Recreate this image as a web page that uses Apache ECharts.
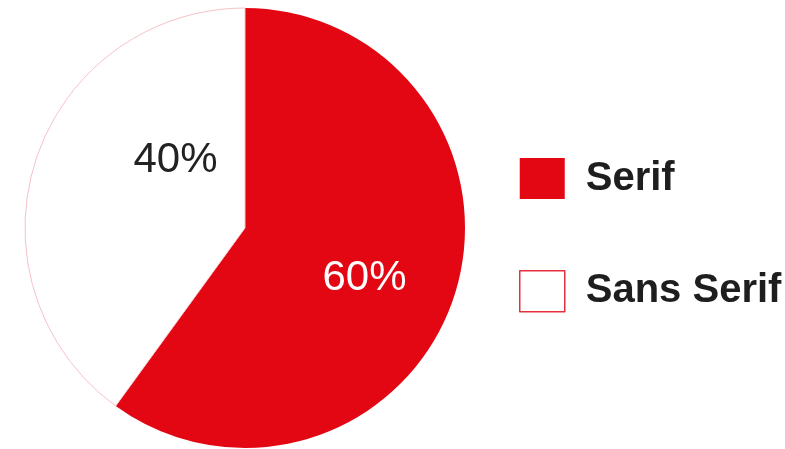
<!DOCTYPE html>
<html>
<head>
<meta charset="utf-8">
<script src="https://cdn.jsdelivr.net/npm/echarts@6/dist/echarts.min.js"></script>
<style>
html,body{margin:0;padding:0;background:#fff;}
#chart{width:785px;height:449px;}
</style>
</head>
<body>
<div id="chart"></div>
<script>
const categories = ['Serif', 'Sans Serif'];
const values = [60, 40];
const labels = ['60%', '40%'];

const RED = '#e30613';
const sliceStyles = [
  { itemStyle: { color: RED, borderWidth: 0 }, label: { color: '#ffffff', offset: [12, 16] } },
  { itemStyle: { color: '#ffffff', borderColor: '#f6c3c8', borderWidth: 1 }, label: { color: '#222222', offset: [38, -33] } }
];
const legendStyles = [
  { itemStyle: { color: RED, borderWidth: 0 } },
  { itemStyle: { color: '#ffffff', borderColor: '#e4303c', borderWidth: 1.5 } }
];

const chart = echarts.init(document.getElementById('chart'), null, { renderer: 'canvas' });
chart.setOption({
  animation: false,
  backgroundColor: '#ffffff',
  legend: {
    orient: 'vertical',
    left: 514,
    top: 153,
    itemWidth: 45,
    itemHeight: 41,
    itemGap: 71,
    icon: 'rect',
    textStyle: { fontFamily: 'Liberation Sans', fontSize: 40, fontWeight: 'bold', color: '#1e1e1e', padding: [0, 0, 0, 16] },
    data: categories.map((c, i) => Object.assign({ name: c }, legendStyles[i]))
  },
  series: [{
    type: 'pie',
    center: [245, 228],
    radius: [0, 220],
    startAngle: 90,
    clockwise: true,
    silent: true,
    label: {
      show: true,
      position: 'inner',
      fontFamily: 'Liberation Sans',
      fontSize: 42,
      formatter: p => labels[p.dataIndex]
    },
    labelLine: { show: false },
    data: categories.map((c, i) => Object.assign({ name: c, value: values[i] }, sliceStyles[i]))
  }]
});
</script>
</body>
</html>
